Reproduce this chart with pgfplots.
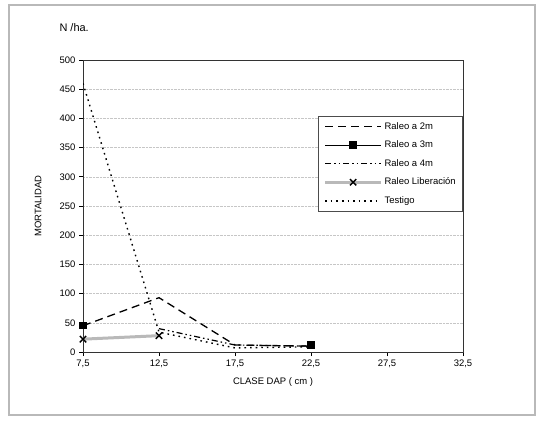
\documentclass[border=0pt]{standalone}
\usepackage{pgfplots}
\pgfplotsset{compat=1.18}
\usepackage{fontspec}
\setmainfont{Liberation Sans}
\begin{document}
\begin{tikzpicture}[x=1bp,y=1bp]
\path[use as bounding box] (0,0) rectangle (540,420);
\draw[gray!55, line width=1.2bp] (9,5) rectangle (535,415);
\node[anchor=west, font=\fontsize{11}{13}\selectfont] at (56,392) {N /ha.};
\begin{axis}[
  at={(83bp,68bp)}, anchor=south west,
  width=380bp, height=292bp, scale only axis,
  xmin=7.5, xmax=32.5, ymin=0, ymax=500,
  xtick={7.5,12.5,17.5,22.5,27.5,32.5},
  xticklabels={{7,5},{12,5},{17,5},{22,5},{27,5},{32,5}},
  ytick={0,50,...,500},
  /pgf/number format/assume math mode=true,
  tick label style={font=\fontsize{9.5}{11}\selectfont},
  tick align=outside, major tick length=4bp,
  tick style={black, line width=0.7bp},
  xtick pos=bottom, ytick pos=left,
  axis line style={black!80, line width=0.9bp},
  ymajorgrids, major grid style={densely dotted, gray!45, line width=0.6bp},
  xlabel={CLASE DAP ( cm )},
  ylabel={MORTALIDAD},
  label style={font=\fontsize{9.5}{11}\selectfont},
  xlabel style={at={(axis description cs:0.5,-0.103)}, anchor=center},
  ylabel style={at={(axis description cs:-0.118,0.5)}, anchor=center},
  unbounded coords=jump,
  legend style={at={(axis description cs:1,0.808)}, anchor=north east,
    draw=black!70, line width=0.7bp, font=\fontsize{9.5}{11}\selectfont,
    row sep=6.2bp, inner xsep=5bp, inner ysep=4bp,
    nodes={inner xsep=2bp}},
  legend cell align=left,
  legend image code/.code={\draw[mark repeat=2,mark phase=2,#1] plot coordinates {(0bp,0bp)(28bp,0bp)(56bp,0bp)};},
]
\addplot[black, line width=1.3bp, dash pattern=on 8bp off 5bp] coordinates {(7.5,45) (12.5,93) (17.5,12) (22.5,10)};
\addlegendentry{Raleo a 2m}
\addplot[black, line width=0.9bp, mark=square*, mark size=3.2bp, mark options={solid}] coordinates {(7.5,45) (12.5,nan) (17.5,nan) (22.5,12)};
\addlegendentry{Raleo a 3m}
\addplot[black, line width=1.2bp, dash pattern=on 6bp off 3bp on 1.5bp off 3bp on 1.5bp off 3bp] coordinates {(12.5,40) (17.5,12) (22.5,10)};
\addlegendentry{Raleo a 4m}
\addplot[gray!55, line width=3bp, mark=x, mark size=4.5bp, mark options={black, line width=1.4bp, solid}] coordinates {(7.5,22) (12.5,28)};
\addlegendentry{Raleo Liberación}
\addplot[black, line width=1.4bp, dash pattern=on 1.6bp off 4bp] coordinates {(7.5,460) (12.5,34) (17.5,7) (22.5,9)};
\addlegendentry{Testigo}
\end{axis}
\end{tikzpicture}
\end{document}
